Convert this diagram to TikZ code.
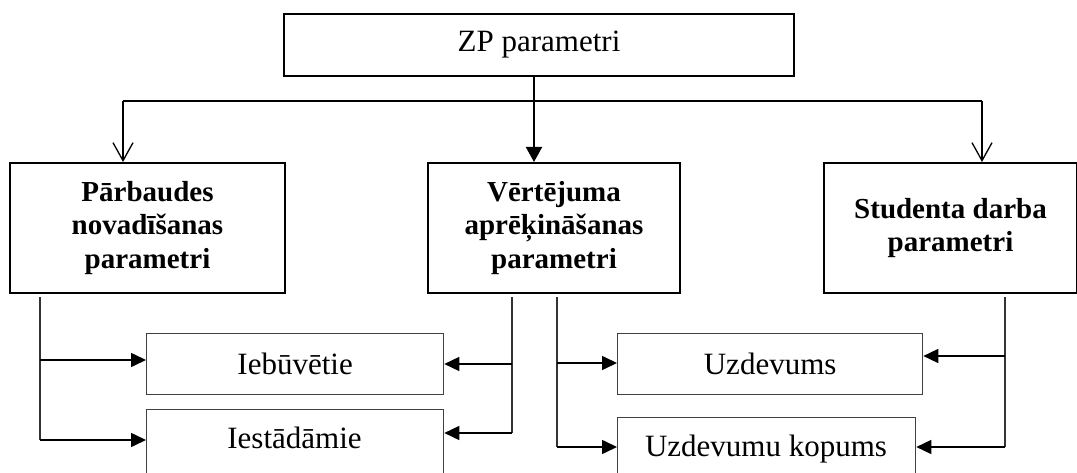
\documentclass[tikz,border=0pt]{standalone}
\usepackage{fontspec}
\setmainfont{Liberation Serif}
\usetikzlibrary{arrows.meta}
\begin{document}
\begin{tikzpicture}[x=1pt,y=-1pt,
  headbox/.style={draw, line width=2pt, inner sep=0pt, anchor=north west,
    align=center, font=\fontsize{29}{33.5}\selectfont\bfseries},
  topbox/.style={draw, line width=2pt, inner sep=0pt, anchor=north west,
    font=\fontsize{31}{36}\selectfont},
  leafbox/.style={draw=black!75, line width=1.3pt, inner sep=0pt, anchor=north west,
    font=\fontsize{31}{36}\selectfont},
  leaftext/.style={anchor=base, inner sep=0pt, font=\fontsize{31}{36}\selectfont},
  bus/.style={draw=black!80, line width=1.2pt},
  feed/.style={line width=1.6pt, -{Triangle[length=15pt,width=14pt]}},
  openarr/.style={line width=1.3pt, -{Straight Barb[length=18pt,width=20pt]}},
  fillarr/.style={line width=2pt, -{Triangle[length=15pt,width=16pt]}}
]
\clip (0,0) rectangle (1077,473);

% boxes
\node[topbox, minimum width=510pt, minimum height=62pt] (top) at (283,13) {ZP parametri};
\node[headbox, minimum width=275pt, minimum height=130pt] (pb) at (9,162)
  {Pārbaudes\\novadīšanas\\parametri};
\node[headbox, minimum width=252pt, minimum height=130pt] (vt) at (427,162)
  {Vērtējuma\\aprēķināšanas\\parametri};
\node[headbox, minimum width=253pt, minimum height=130pt] (sd) at (823,162)
  {Studenta darba\\parametri};

\node[leafbox, minimum width=297pt, minimum height=61pt] (ieb) at (146,333) {Iebūvētie};
\node[leafbox, minimum width=297pt, minimum height=80pt] (ies) at (146,409) {};
\node[leaftext] (iestxt) at (294.5,448) {Iestādāmie};
\node[leafbox, minimum width=305pt, minimum height=61pt] (uz) at (617,333) {Uzdevums};
\node[leafbox, minimum width=298pt, minimum height=80pt] (uzk) at (617,417) {};
\node[leaftext] (uzktxt) at (766,456.5) {Uzdevumu kopums};

% distribution from the top box
\coordinate (hub) at (534,101);
\coordinate (hl) at (123,101);
\coordinate (hr) at (982,101);
\draw[line width=1.3pt] (top.south -| hub) -- (hub);
\draw[line width=1.3pt] (hl) -- (hr);
\draw[openarr] (hl) -- (hl |- pb.north);
\draw[fillarr] (hub) -- (hub |- vt.north);
\draw[openarr] (hr) -- (hr |- sd.north);

% Pārbaudes novadīšanas parametri -> left boxes
\coordinate (pa) at (40,360);
\coordinate (pbb) at (40,440);
\draw[bus, shorten <=3pt] (pb.south -| pbb) -- (pbb);
\draw[feed] (pa) -- (pa -| ieb.west);
\draw[feed] (pbb) -- (pbb -| ies.west);

% Vērtējuma aprēķināšanas parametri -> left boxes
\coordinate (va) at (512,364);
\coordinate (vb) at (512,433);
\draw[bus, shorten <=3pt] (vt.south -| vb) -- (vb);
\draw[feed] (va) -- (va -| ieb.east);
\draw[feed] (vb) -- (vb -| ies.east);

% Vērtējuma aprēķināšanas parametri -> right boxes
\coordinate (wa) at (557,363);
\coordinate (wb) at (557,447);
\draw[bus, shorten <=3pt] (vt.south -| wb) -- (wb);
\draw[feed] (wa) -- (wa -| uz.west);
\draw[feed] (wb) -- (wb -| uzk.west);

% Studenta darba parametri -> right boxes
\coordinate (sa) at (1005,356);
\coordinate (sb) at (1005,447);
\draw[bus, shorten <=3pt] (sd.south -| sb) -- (sb);
\draw[feed] (sa) -- (sa -| uz.east);
\draw[feed] (sb) -- (sb -| uzk.east);
\end{tikzpicture}
\end{document}
